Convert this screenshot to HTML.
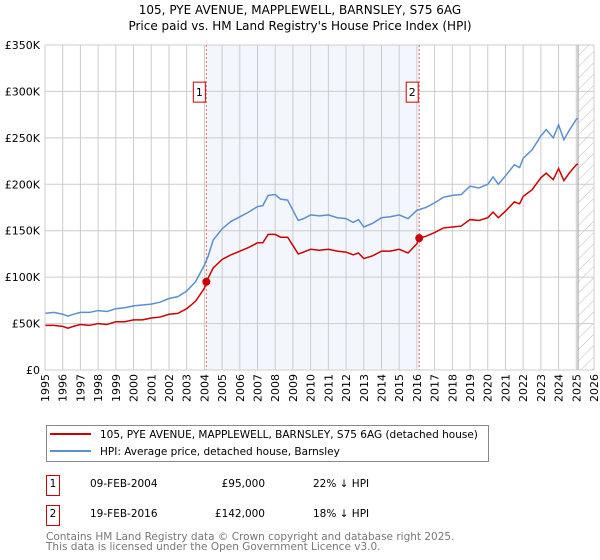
<!DOCTYPE html>
<html><head><meta charset="utf-8"><style>
body{margin:0;background:#fff;}
svg{display:block;font-family:"DejaVu Sans","Liberation Sans",sans-serif;}
</style></head><body>
<svg id="chart" width="600" height="560">
<text x="300" y="14" text-anchor="middle" font-size="12">105, PYE AVENUE, MAPPLEWELL, BARNSLEY, S75 6AG</text>
<text x="300" y="30" text-anchor="middle" font-size="12">Price paid vs. HM Land Registry's House Price Index (HPI)</text>
<g id="grid"></g><g id="series"></g><g id="axes"></g>
<g>
<rect x="46.5" y="425.5" width="442" height="36" fill="#fff" stroke="#888"/>
<line x1="50" y1="434" x2="91" y2="434" stroke="#cc0000" stroke-width="2"/>
<text x="100" y="438" font-size="10.5">105, PYE AVENUE, MAPPLEWELL, BARNSLEY, S75 6AG (detached house)</text>
<line x1="50" y1="451" x2="91" y2="451" stroke="#5b8fd0" stroke-width="2"/>
<text x="100" y="455" font-size="10.5">HPI: Average price, detached house, Barnsley</text>
</g>
<g font-size="10.5">
<rect x="46.5" y="475.5" width="13" height="20" fill="#fff" stroke="#cc0000"/>
<text x="53" y="487" text-anchor="middle">1</text>
<text x="90" y="487">09-FEB-2004</text><text x="265" y="487" text-anchor="end">£95,000</text><text x="313" y="487">22% ↓ HPI</text>
<rect x="46.5" y="505.5" width="13" height="20" fill="#fff" stroke="#cc0000"/>
<text x="53" y="517" text-anchor="middle">2</text>
<text x="90" y="517">19-FEB-2016</text><text x="265" y="517" text-anchor="end">£142,000</text><text x="313" y="517">18% ↓ HPI</text>
</g>
<text x="46" y="540" font-size="10.5" fill="#777">Contains HM Land Registry data © Crown copyright and database right 2025.</text>
<text x="46" y="550" font-size="10.5" fill="#777">This data is licensed under the Open Government Licence v3.0.</text>
</svg>
<script>
const hpiYears=[1995,1995.5,1996,1996.3,1996.6,1997,1997.5,1998,1998.5,1999,1999.5,2000,2000.5,2001,2001.5,2002,2002.5,2003,2003.5,2004,2004.2,2004.5,2005,2005.5,2006,2006.5,2007,2007.3,2007.6,2008,2008.3,2008.7,2009,2009.3,2009.6,2010,2010.5,2011,2011.5,2012,2012.4,2012.7,2013,2013.5,2014,2014.5,2015,2015.5,2016,2016.5,2017,2017.5,2018,2018.5,2019,2019.5,2020,2020.3,2020.6,2021,2021.5,2021.8,2022,2022.5,2023,2023.3,2023.7,2024,2024.3,2024.6,2025,2025.1];
const hpiValues=[61,62,60,58,60,62,62,64,63,66,67,69,70,71,73,77,79,85,95,113,122,140,152,160,165,170,176,177,188,189,184,183,172,161,163,167,166,167,164,163,159,162,154,158,164,165,167,163,172,175,180,186,188,189,198,196,200,208,200,209,221,218,228,237,252,259,250,264,248,258,270,271];
const priceYears=[1995,1995.5,1996,1996.3,1996.6,1997,1997.5,1998,1998.5,1999,1999.5,2000,2000.5,2001,2001.5,2002,2002.5,2003,2003.5,2004,2004.11,2004.5,2005,2005.5,2006,2006.5,2007,2007.3,2007.6,2008,2008.3,2008.7,2009,2009.3,2009.6,2010,2010.5,2011,2011.5,2012,2012.4,2012.7,2013,2013.5,2014,2014.5,2015,2015.5,2016,2016.13,2016.5,2017,2017.5,2018,2018.5,2019,2019.5,2020,2020.3,2020.6,2021,2021.5,2021.8,2022,2022.5,2023,2023.3,2023.7,2024,2024.3,2024.6,2025,2025.1];
const priceValues=[48,48,47,45,47,49,48,50,49,52,52,54,54,56,57,60,61,66,74,88,95,110,119,124,128,132,137,137,146,146,143,143,134,125,127,130,129,130,128,127,124,126,120,123,128,128,130,126,136,142,144,148,153,154,155,162,161,164,170,164,171,181,179,187,194,207,212,205,217,204,212,221,222];
const saleYears=[2004.11,2016.13];
const saleValues=[95,142];
const saleLabels=["1","2"];
const yTicks=[0,50,100,150,200,250,300,350];
const yTickLabels=["£0","£50K","£100K","£150K","£200K","£250K","£300K","£350K"];
const xTicks=[1995,1996,1997,1998,1999,2000,2001,2002,2003,2004,2005,2006,2007,2008,2009,2010,2011,2012,2013,2014,2015,2016,2017,2018,2019,2020,2021,2022,2023,2024,2025,2026];

const L=45,R=594,T=45,B=370;
const x=v=>L+(v-1995)/(2026-1995)*(R-L);
const y=v=>B-v/350*(B-T);
const NS="http://www.w3.org/2000/svg";
function mk(tag,parent,attrs){const e=document.createElementNS(NS,tag);for(const k in attrs)e.setAttribute(k,attrs[k]);parent.appendChild(e);return e;}
const grid=document.getElementById('grid'),series=document.getElementById('series'),axes=document.getElementById('axes');
let sh=mk('rect',grid,{x:x(saleYears[0]),y:T,width:x(saleYears[1])-x(saleYears[0]),height:B-T,fill:'#eef3fc',opacity:0.7});


const defs=mk('defs',grid,{});
const pat=mk('pattern',defs,{id:'hatch',width:8,height:8,patternUnits:'userSpaceOnUse',patternTransform:'rotate(45)'});
mk('line',pat,{x1:0,y1:0,x2:0,y2:8,stroke:'#bbb','stroke-width':1});
let ht=mk('rect',grid,{x:x(2025.1),y:T,width:R-x(2025.1),height:B-T,fill:'url(#hatch)'});


xTicks.forEach(t=>{let l=mk('line',grid,{x1:x(t),x2:x(t),y1:T,y2:B,stroke:'#ccc','stroke-width':1});


let tx=mk('text',axes,{transform:`translate(${x(t)+4},${B+4}) rotate(-90)`,'text-anchor':'end','font-size':11});tx.textContent=t;

});
yTicks.forEach((t,i)=>{let l=mk('line',grid,{x1:L,x2:R,y1:y(t),y2:y(t),stroke:'#ccc','stroke-width':1});


let tx=mk('text',axes,{x:L-5,y:y(t)+4,'text-anchor':'end','font-size':11});tx.textContent=yTickLabels[i];

});
let cl=mk('line',grid,{x1:x(2025.1),x2:x(2025.1),y1:T,y2:B,stroke:'#999','stroke-width':1});


saleYears.forEach((s,i)=>{let l=mk('line',grid,{x1:x(s),x2:x(s),y1:T,y2:B,stroke:'#f06060','stroke-width':1,'stroke-dasharray':'2,2'});


let r=mk('rect',axes,{x:x(s)-13,y:y(310),width:12,height:20,fill:'#fff',stroke:'#cc0000'});


let t=mk('text',axes,{x:x(s)-7,y:y(310)+14,'text-anchor':'middle','font-size':11});t.textContent=saleLabels[i];

});
let hp=mk('polyline',series,{points:hpiYears.map((v,i)=>x(v)+','+y(hpiValues[i])).join(' '),fill:'none',stroke:'#5b8fd0','stroke-width':1.5});


let pp=mk('polyline',series,{points:priceYears.map((v,i)=>x(v)+','+y(priceValues[i])).join(' '),fill:'none',stroke:'#cc0000','stroke-width':1.5});


saleYears.forEach((s,i)=>{let c=mk('circle',series,{cx:x(s),cy:y(saleValues[i]),r:4,fill:'#cc0000'});

});
let ax=mk('path',axes,{d:`M${L},${T}V${B}H${R}`,fill:'none',stroke:'#ccc'});


</script>
</body></html>
